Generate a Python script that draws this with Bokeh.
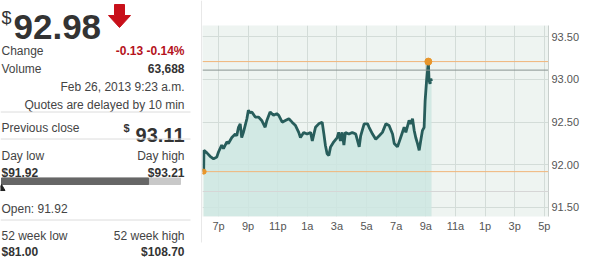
from bokeh.plotting import figure
from bokeh.layouts import row
from bokeh.models import (ColumnDataSource, Range1d, FixedTicker, PrintfTickFormatter,
                          BoxAnnotation, PolyAnnotation)
from bokeh.core.properties import value
from bokeh.embed import file_html
from bokeh.resources import INLINE

FONT = value("Liberation Sans")

# ---------------- data ----------------
last_price = 92.98
change = -0.13
change_pct = -0.14
volume = 63688
quote_time = "Feb 26, 2013 9:23 a.m."
delay_note = "Quotes are delayed by 10 min"
prev_close = 93.11
day_low = 91.92
day_high = 93.21
open_price = 91.92
week52_low = 81.00
week52_high = 108.70

times = ["18:00", "18:01", "18:13", "18:26", "18:40", "18:53", "19:00", "19:13", "19:20", "19:34",
         "19:40", "19:54", "20:08", "20:14", "20:21", "20:28", "20:34", "20:41", "20:55", "21:01",
         "21:08", "21:15", "21:29", "21:42", "21:55", "22:09", "22:16", "22:29", "22:43", "22:56",
         "23:04", "23:18", "23:31", "23:45", "23:58", "00:12", "00:25", "00:32", "00:45", "00:59",
         "01:13", "01:20", "01:33", "01:46", "02:00", "02:07", "02:13", "02:20", "02:27", "02:34",
         "02:47", "03:01", "03:07", "03:14", "03:21", "03:28", "03:34", "03:48", "04:02", "04:16",
         "04:30", "04:36", "04:50", "05:04", "05:10", "05:24", "05:37", "05:51", "06:04", "06:18",
         "06:31", "06:45", "06:52", "07:05", "07:18", "07:32", "07:39", "07:52", "07:59", "08:06",
         "08:13", "08:19", "08:26", "08:33", "08:39", "08:46", "08:53", "08:57", "09:03", "09:07",
         "09:10", "09:13", "09:17", "09:20", "09:23"]
prices = [91.92, 92.17, 92.14, 92.10, 92.07, 92.09, 92.15, 92.23, 92.19, 92.27,
          92.25, 92.32, 92.36, 92.34, 92.44, 92.48, 92.32, 92.38, 92.54, 92.64,
          92.61, 92.62, 92.56, 92.56, 92.52, 92.44, 92.52, 92.62, 92.58, 92.60,
          92.58, 92.50, 92.52, 92.54, 92.50, 92.46, 92.38, 92.32, 92.38, 92.36,
          92.38, 92.28, 92.44, 92.48, 92.50, 92.36, 92.23, 92.13, 92.11, 92.21,
          92.27, 92.32, 92.38, 92.28, 92.38, 92.23, 92.38, 92.36, 92.38, 92.36,
          92.21, 92.34, 92.48, 92.48, 92.44, 92.36, 92.30, 92.34, 92.38, 92.48,
          92.46, 92.36, 92.25, 92.21, 92.32, 92.44, 92.38, 92.52, 92.48, 92.54,
          92.40, 92.32, 92.25, 92.17, 92.28, 92.40, 92.44, 92.75, 92.99, 93.11,
          93.21, 92.99, 92.95, 93.01, 92.98]

tick_hours = [19, 21, 23, 25, 27, 29, 31, 33, 35, 37, 39, 41]
tick_labels = ["7p", "9p", "11p", "1a", "3a", "5a", "7a", "9a", "11a", "1p", "3p", "5p"]
price_ticks = [91.5, 92.0, 92.5, 93.0, 93.5]


def to_hours(t):
    hh, mm = t.split(":")
    h = int(hh) + int(mm) / 60.0
    return h + 24 if h < 18 else h


hours = [to_hours(t) for t in times]
src = ColumnDataSource(dict(x=hours, y=prices))

# ---------------- left quote panel ----------------
L = figure(width=202, height=257, x_range=Range1d(0, 202), y_range=Range1d(257, 0),
           output_backend="svg", toolbar_location=None, x_axis_type=None, y_axis_type=None,
           min_border=0, min_border_left=0, min_border_right=0, min_border_top=0,
           min_border_bottom=0, outline_line_color=None, background_fill_color="white",
           border_fill_color="white", frame_align=False)
L.grid.visible = False


def txt(x, y, s, size="12px", color="#444", align="left", style="normal"):
    L.text(x=[x], y=[y], text=[s], text_font=FONT, text_font_size=size, text_color=color,
           text_align=align, text_baseline="alphabetic", text_font_style=style)


txt(1, 17, "$", size="18px", color="#333")
txt(13, 26.7, f"{last_price:.2f}", size="35px", color="#333", style="bold")
# down arrow
L.patch(x=[114, 124, 124, 130, 119, 108, 114], y=[4, 4, 15, 15, 27, 15, 15], color="#c8101a")

R = 184
txt(1, 50.5, "Change")
txt(R, 50.5, f"{change:.2f} {change_pct:.2f}%", color="#b5121b", align="right", style="bold")
txt(1, 68.3, "Volume")
txt(R, 68.3, f"{volume:,}", color="#333", align="right", style="bold")
txt(R, 86, quote_time, align="right")
txt(R, 104, delay_note, align="right")
txt(1, 127.7, "Previous close")
txt(123, 127.5, "$", size="11px", color="#333", style="bold")
txt(R, 134.3, f"{prev_close:.2f}", size="20px", color="#333", align="right", style="bold")
txt(1, 155, "Day low")
txt(R, 155, "Day high", align="right")
txt(1, 172, f"${day_low:.2f}", color="#333", style="bold")
txt(R, 172, f"${day_high:.2f}", color="#333", align="right", style="bold")
txt(1, 208.3, f"Open: {open_price:.2f}")
txt(1, 235, "52 week low")
txt(R, 235, "52 week high", align="right")
txt(1, 251, f"${week52_low:.2f}", color="#333", style="bold")
txt(R, 251, f"${week52_high:.2f}", color="#333", align="right", style="bold")

# separators
for yy in (111.5, 138.5, 219.5):
    L.segment(x0=[0], y0=[yy], x1=[190], y1=[yy], line_color="#dcdcdc", line_width=1)

# day range bar
bar_l, bar_r = 1, 180
pos = bar_l + (last_price - day_low) / (day_high - day_low) * (bar_r - bar_l)
L.quad(left=[bar_l], right=[bar_r], top=[177.5], bottom=[184], color="#c8c8c8")
L.quad(left=[bar_l], right=[pos], top=[177.5], bottom=[184], color="#666666")
L.scatter(x=[bar_l + (open_price - day_low) / (day_high - day_low) * (bar_r - bar_l)], y=[188],
          marker="triangle", size=7, color="#222")
# chart container border
L.segment(x0=[201.5], y0=[0], x1=[201.5], y1=[242], line_color="#d0d0d0", line_width=1)

# ---------------- chart ----------------
y0, y1 = 91.394, 93.633
p = figure(width=389, height=257, x_range=Range1d(17.92, 41.28), y_range=Range1d(y0, y1),
           output_backend="svg", toolbar_location=None, y_axis_location="right",
           min_border_left=0, min_border_right=43, min_border_top=25, min_border_bottom=41,
           background_fill_color="#eef4f1", border_fill_color="white", outline_line_color=None,
           frame_align=False)

p.xaxis.ticker = FixedTicker(ticks=tick_hours)
p.xaxis.major_label_overrides = {float(h): lab for h, lab in zip(tick_hours, tick_labels)}
p.yaxis.ticker = FixedTicker(ticks=price_ticks)
p.yaxis.formatter = PrintfTickFormatter(format="%.2f")
for ax in (p.xaxis, p.yaxis):
    ax.major_tick_out = 0
    ax.major_tick_in = 0
    ax.minor_tick_out = 0
    ax.minor_tick_in = 0
    ax.major_label_text_font = "Liberation Sans"
    ax.major_label_text_font_size = "11px"
    ax.major_label_text_color = "#555"
p.xaxis.axis_line_color = None
p.xaxis.major_label_standoff = 3
p.yaxis.axis_line_color = "#c8cfcc"
p.yaxis.major_label_standoff = 3
p.xgrid.grid_line_color = "#d3dcd8"
p.ygrid.grid_line_color = "#d3dcd8"

p.varea(x="x", y1="y", y2=y0, source=src, fill_color="#cde6e2", fill_alpha=0.85)
p.line(x="x", y="y", source=src, line_color="#275d5b", line_width=2.8)

for lvl, col in ((day_high, "#f0b57a"), (day_low, "#f0b57a"), (prev_close, "#8a9391")):
    p.line(x=[17.92, 41.28], y=[lvl, lvl], line_color=col, line_width=1)

p.scatter(x=[hours[0]], y=[open_price], size=5, color="#e8962c")
p.scatter(x=[hours[prices.index(day_high)]], y=[day_high], size=7, color="#e8962c")

# decorative frame lines (screen units)
for top in (24.5, 241.5):
    p.add_layout(BoxAnnotation(left=0, right=380, top=top, bottom=top + 1,
                               left_units="screen", right_units="screen",
                               top_units="screen", bottom_units="screen",
                               fill_color="#d6d6d6", fill_alpha=1, line_color=None))
for l, r in ((216, 288), (359, 378)):
    p.add_layout(BoxAnnotation(left=l, right=r, top=251.5, bottom=252.5,
                               left_units="screen", right_units="screen",
                               top_units="screen", bottom_units="screen",
                               fill_color="#d6d6d6", fill_alpha=1, line_color=None))
p.add_layout(PolyAnnotation(xs=[11, 18, 14.5], ys=[243, 243, 248], xs_units="screen",
                            ys_units="screen", fill_color="#b8bfbd", fill_alpha=1, line_color=None))

layout = row(L, p)
open("out.html", "w").write(file_html(layout, INLINE))
